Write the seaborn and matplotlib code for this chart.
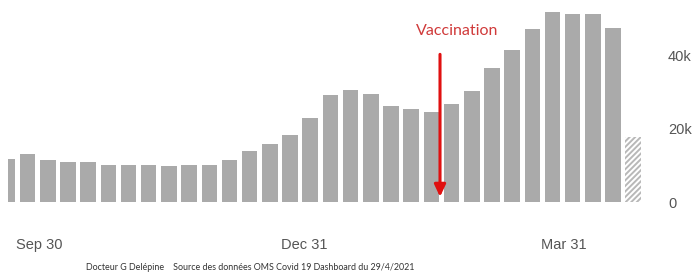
import matplotlib
matplotlib.use("Agg")
import matplotlib.pyplot as plt
import seaborn as sns
import pandas as pd
import numpy as np

# ---- data ----
week_start = pd.date_range("2020-09-19", periods=32, freq="7D")
cases = [11700, 13100, 11400, 10800, 10900, 10000, 10000, 10000, 9700, 10100,
         10000, 11400, 14000, 15700, 18200, 22800, 29000, 30400, 29400, 26100,
         25400, 24400, 26700, 30300, 36500, 41500, 47000, 51800, 51300, 51200,
         47500, 17800]
partial_week = [False] * 31 + [True]
tick_dates = ["2020-09-30", "2020-12-31", "2021-03-31"]
tick_labels = ["Sep 30", "Dec 31", "Mar 31"]
y_ticks = [0, 20000, 40000]
y_labels = ["0", "20k", "40k"]
vacc_date = "2021-02-16"
vacc_label = "Vaccination"
footer = "Docteur G Delépine    Source des données OMS Covid 19 Dashboard du 29/4/2021"

df = pd.DataFrame({"week": np.arange(len(cases)), "cases": cases})

sns.set_theme(style="white")
plt.rcParams["font.family"] = ["Liberation Sans", "DejaVu Sans"]
plt.rcParams["hatch.color"] = "#b8b8b8"
plt.rcParams["hatch.linewidth"] = 1.4

fig = plt.figure(figsize=(6.92, 2.77), dpi=100)
ax = fig.add_axes([8 / 692, 75 / 277, 642 / 692, 202 / 277])

sns.barplot(data=df, x="week", y="cases", color="#aaaaaa", saturation=1,
            width=0.77, ax=ax, native_scale=True, linewidth=0)

for p, part in zip(ax.patches, partial_week):
    if part:
        p.set_facecolor("white")
        p.set_edgecolor("#b8b8b8")
        p.set_linewidth(0)
        p.set_hatch("//////")

ax.set_xlim(0.03, 31.83)
ax.set_ylim(0, 55000)

t0 = week_start[0]
tick_pos = [(pd.Timestamp(d) - t0).days / 7 for d in tick_dates]
ax.set_xticks(tick_pos)
ax.set_xticklabels(tick_labels, fontsize=10.5, color="#555555")
ax.tick_params(axis="x", length=0, pad=26)

ax.yaxis.tick_right()
ax.set_yticks(y_ticks)
ax.set_yticklabels(y_labels, fontsize=10.5, color="#555555")
ax.tick_params(axis="y", length=0, pad=13)
ax.set_xlabel("")
ax.set_ylabel("")
for s in ax.spines.values():
    s.set_visible(False)

vx = (pd.Timestamp(vacc_date) - t0).days / 7
ax.annotate("", xy=(vx, 1400), xytext=(vx, 40200),
            arrowprops=dict(arrowstyle="-|>,head_width=0.28,head_length=0.6",
                            color="#e01010", lw=2.2, shrinkA=0, shrinkB=0))
ax.text(vx + 0.85, 46600, vacc_label, ha="center", va="center",
        fontsize=11.5, color="#d03a3a", family=["Lato", "DejaVu Sans"])

fig.text(250 / 692, 1 - 268 / 277, footer, ha="center", va="center",
         fontsize=6.4, color="#333333", family=["Lato", "DejaVu Sans"])

fig.savefig("out.png", dpi=100, facecolor="white")
